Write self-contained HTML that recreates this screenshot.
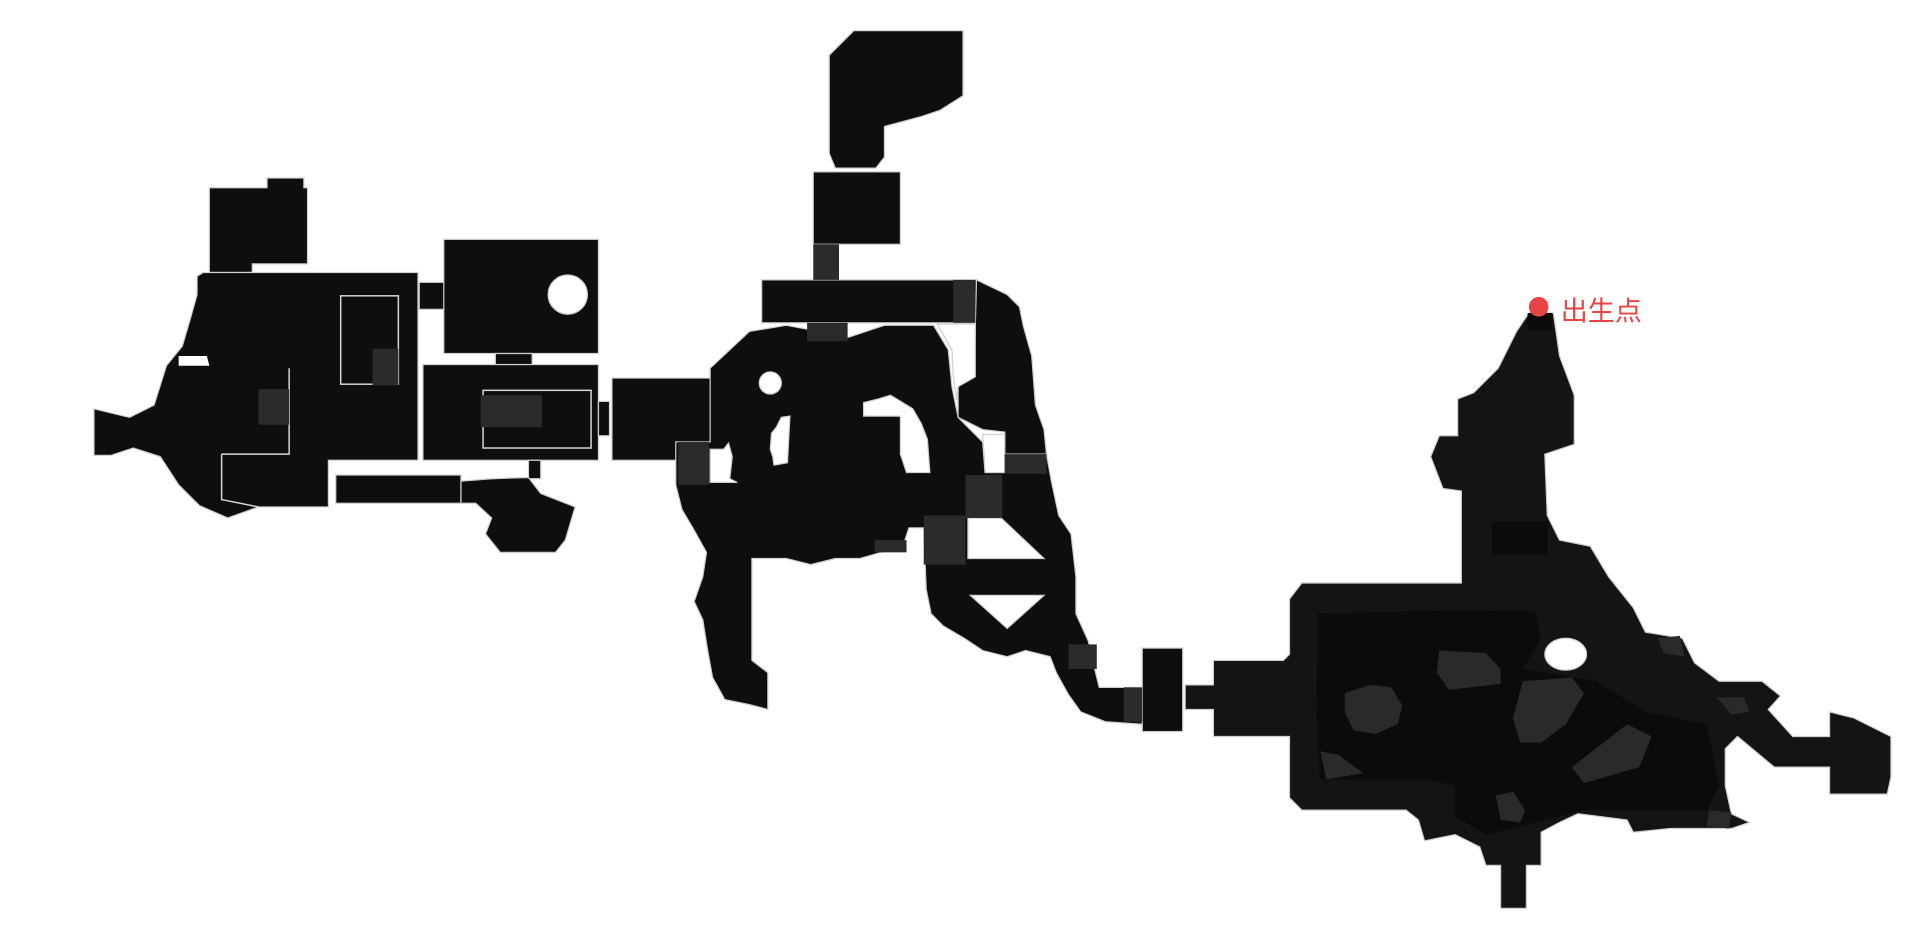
<!DOCTYPE html>
<html><head><meta charset="utf-8"><style>
html,body{margin:0;padding:0;background:#fff;width:1926px;height:939px;overflow:hidden}
svg{display:block}
</style></head><body>
<svg width="1926" height="939" viewBox="0 0 1568 765" xmlns="http://www.w3.org/2000/svg">
<g fill="#0e0e0e" stroke="#cfcfcf" stroke-width="1">
<!-- left cluster -->
<polygon points="170,153 217,153 217,145 247,145 247,153 250,153 250,215 205,215 205,222 170,222"/>
<polygon points="165,222 340,222 340,375 267,375 267,413 210,413 185,422 162,412 145,395 130,372 108,365 90,371 76,371 76,333 105,340 125,330 135,298 148,282 155,258 160,240 160,225"/>
<rect x="341" y="230" width="21" height="22"/>
<rect x="361" y="195" width="126" height="93"/>
<rect x="403" y="288" width="30" height="10"/>
<rect x="344" y="297" width="143" height="78"/>
<rect x="487" y="327" width="9" height="28"/>
<rect x="430" y="375" width="10" height="15"/>
<rect x="273" y="387" width="102" height="23"/>
<polygon points="375,392 400,390 430,389 440,402 468,413 460,440 452,450 407,450 395,435 400,422 387,410 375,410"/>
<!-- middle -->
<rect x="498" y="308" width="82" height="67"/>
<polygon points="675,45 695,25 784,25 784,78 765,90 750,95 720,103 720,128 713,137 680,137 675,125"/>
<rect x="662" y="140" width="71" height="59"/>
<rect x="620" y="228" width="175" height="35"/>
<polygon points="795,228 820,240 830,250 833,265 840,290 843,330 850,350 852,370 818,370 818,352 800,350 780,340 780,315 793,305"/>
<polygon points="578,300 610,270 640,265 656,268 690,275 720,265 760,265 772,285 775,315 780,340 800,360 802,385 820,385 820,370 852,370 856,392 862,420 872,435 876,470 876,500 886,522 892,548 895,560 930,560 930,590 900,588 880,580 870,566 860,548 855,535 835,530 820,535 800,530 785,520 768,510 758,500 754,480 752,430 740,430 735,445 700,455 680,455 660,460 640,455 612,455 612,538 625,548 625,578 610,574 590,570 580,552 576,530 572,505 565,490 572,470 575,450 565,432 555,415 550,395 550,360 578,360"/>
<rect x="930" y="528" width="33" height="68"/>
<!-- right cluster -->
<polygon fill="#141414" points="1050,488 1060,475 1190,475 1190,400 1175,398 1165,372 1172,355 1187,355 1187,325 1200,320 1220,300 1235,270 1245,255 1265,255 1270,290 1282,322 1282,362 1258,370 1260,420 1270,440 1295,445 1310,470 1330,495 1340,515 1370,520 1380,540 1400,555 1435,555 1450,567 1440,578 1460,600 1490,600 1490,580 1510,585 1540,600 1540,633 1537,647 1490,647 1490,625 1445,625 1415,600 1405,610 1405,640 1410,663 1425,670 1410,675 1360,675 1330,678 1325,668 1285,663 1270,670 1255,678 1255,705 1243,705 1243,740 1222,740 1222,705 1210,705 1205,690 1185,680 1160,685 1155,668 1145,660 1060,660 1050,650 1050,600 988,600 988,578 965,578 965,558 988,558 988,538 1045,538 1050,533"/>
</g>
<!-- holes / outlines -->
<g fill="#fff" stroke="#cfcfcf" stroke-width="1">
<circle cx="462" cy="240" r="16"/>
<circle cx="627" cy="312" r="9"/>
<polygon points="788,422 815,422 850,455 788,455"/>
<polygon points="790,485 850,485 820,512"/>
<ellipse cx="1275" cy="533" rx="17" ry="13"/>
<polygon points="703,339 703,328 715,325 725,322 743,333 750,345 755,358 757,385 738,385 733,370 733,339"/>
<polygon points="763,264 794,264 794,307 780,315 779,326 776,305 775,285"/>
<polygon points="800,354 818,354 818,385 802,385 801,368"/>
<polygon points="578,366 589,366 593,361 596,372 594,390 600,393 578,393"/>
<polygon points="630,379 641,377 643,339 636,340 632,348 628,353 627,366 629,372"/>
<polygon points="145,290 168,290 170,298 145,298" stroke="none"/>
</g>
<g fill="none" stroke="#d8d8d8" stroke-width="1.2">
<rect x="277" y="241" width="47" height="72"/>
<rect x="393" y="318" width="88" height="47"/>
<polyline points="180,370 235,370 235,300"/>
<polyline points="180,370 180,407 210,413"/>
</g>
<!-- inner darker floor of right cluster -->
<polygon fill="#0b0b0b" points="1073,500 1185,497 1250,498 1255,520 1240,545 1300,555 1340,580 1390,590 1400,640 1390,660 1290,660 1250,670 1210,680 1185,665 1185,640 1160,635 1075,635 1072,580"/>
<rect x="1215" y="425" width="45" height="27" fill="#0b0b0b"/>
<rect x="1244" y="255" width="20" height="14" fill="#0b0b0b"/>
<!-- gray blobs -->
<g fill="#2a2a2a">
<polygon points="1095,565 1115,558 1133,560 1142,575 1138,590 1120,598 1102,595 1095,580"/>
<polygon points="1172,530 1210,532 1222,545 1222,557 1180,562 1170,548"/>
<polygon points="1240,555 1280,552 1290,565 1275,590 1255,605 1238,605 1232,585"/>
<polygon points="1280,625 1325,590 1345,600 1335,625 1290,638"/>
<polygon points="1218,648 1232,645 1242,660 1238,670 1222,668"/>
<polygon points="1075,612 1090,615 1110,630 1080,635"/>
<polygon points="1350,520 1368,518 1372,535 1355,532"/>
<polygon points="1392,660 1410,662 1408,675 1390,673"/>
<polygon points="1398,568 1420,568 1425,580 1410,582"/>
</g>
<!-- gray connectors -->
<g fill="#2b2b2b">
<rect x="303" y="284" width="21" height="30"/>
<rect x="210" y="317" width="25" height="29"/>
<rect x="391" y="322" width="50" height="26"/>
<rect x="552" y="360" width="25" height="35"/>
<rect x="662" y="199" width="21" height="29"/>
<rect x="657" y="263" width="33" height="15"/>
<rect x="776" y="228" width="18" height="35"/>
<rect x="818" y="370" width="34" height="16"/>
<rect x="786" y="387" width="30" height="35"/>
<rect x="752" y="420" width="34" height="40"/>
<rect x="712" y="440" width="26" height="10"/>
<rect x="870" y="525" width="23" height="20"/>
<rect x="915" y="560" width="15" height="28"/>
</g>
<circle cx="1253" cy="250" r="8" fill="#e84444"/>
<text x="1271" y="261" fill="#e84444" font-size="22" font-family="'Liberation Sans','Noto Sans CJK SC',sans-serif">出生点</text>
</svg>
</body></html>
